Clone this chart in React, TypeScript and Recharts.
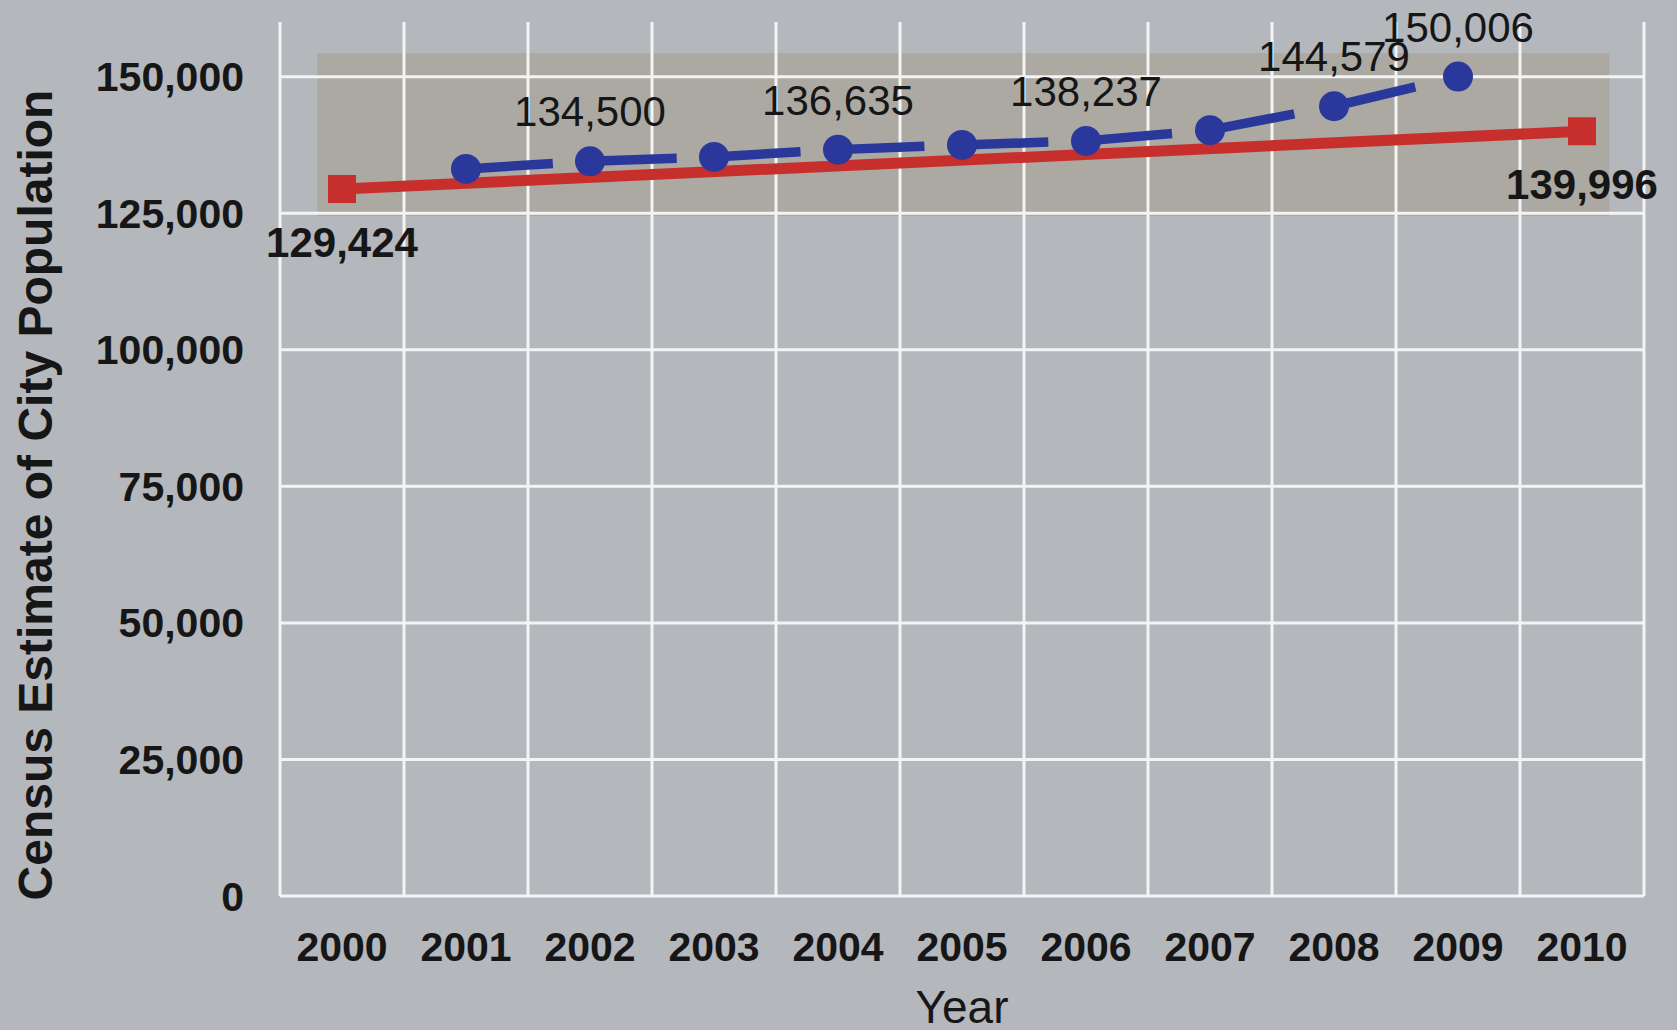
import React from 'react';
import { LineChart, Line, XAxis, YAxis, CartesianGrid, ReferenceArea } from 'recharts';

// years on the x axis
const years = [2000, 2001, 2002, 2003, 2004, 2005, 2006, 2007, 2008, 2009, 2010];
// annual city estimates (blue), unlabelled years
const cityEstimate = [null, 133100, 134500, 135300, 136635, 137500, 138237, 140200, 144579, 150006, null];
// decennial census counts (red)
const censusCount = [129424, null, null, null, null, null, null, null, null, null, 139996];
const labelledYears = [2002, 2004, 2006, 2008, 2009];

const yTicks = [0, 25000, 50000, 75000, 100000, 125000, 150000];
const gridYears = [1999.5, 2000.5, 2001.5, 2002.5, 2003.5, 2004.5, 2005.5, 2006.5, 2007.5, 2008.5, 2009.5, 2010.5];
// shaded range behind the lines
const bandYears = [1999.8, 2010.22];
const bandValues = [124500, 154300];

const data = years.map((year, i) => ({ year, estimate: cityEstimate[i], census: censusCount[i] }));

const FONT = '"Liberation Sans", Arial, Helvetica, sans-serif';
const BLUE = '#2a389b';
const RED = '#c72f2c';
const INK = '#161616';

const fmt = (v: number) => v.toLocaleString('en-US');

const EstimateDot = (props: any) => {
    const { cx, cy, payload, index } = props;
    if (cx == null || cy == null || payload?.estimate == null) return <g key={`e-${index}`} />;
    const showLabel = labelledYears.includes(payload.year);
    return (
        <g key={`e-${index}`}>
            <circle cx={cx} cy={cy} r={15} fill={BLUE} />
            {showLabel && (
                <text x={cx} y={cy - 35} textAnchor="middle" fontSize={42} fontFamily={FONT} fill={INK}>
                    {fmt(payload.estimate)}
                </text>
            )}
        </g>
    );
};

const CensusDot = (props: any) => {
    const { cx, cy, payload, index } = props;
    if (cx == null || cy == null || payload?.census == null) return <g key={`c-${index}`} />;
    return (
        <g key={`c-${index}`}>
            <rect x={cx - 14} y={cy - 14} width={28} height={28} fill={RED} />
            <text x={cx} y={cy + 68} textAnchor="middle" fontSize={42} fontWeight="bold" fontFamily={FONT} fill={INK}>
                {fmt(payload.census)}
            </text>
        </g>
    );
};

const YTitle = (p: any) => {
    const vb = p.viewBox || {};
    const x = 35;
    const y = (vb.y ?? 22) + (vb.height ?? 874) / 2 + 36;
    return (
        <text x={x} y={y} transform={`rotate(-90, ${x}, ${y})`} textAnchor="middle" dominantBaseline="central"
            fontSize={48} fontWeight="bold" fontFamily={FONT} fill={INK}>
            Census Estimate of City Population
        </text>
    );
};

const XTitle = (p: any) => {
    const vb = p.viewBox || {};
    const x = (vb.x ?? 280) + (vb.width ?? 1364) / 2;
    const y = (vb.y ?? 896) + 127;
    return (
        <text x={x} y={y} textAnchor="middle" fontSize={46} fontFamily={FONT} fill={INK}>
            Year
        </text>
    );
};

export default function App() {
    return (
        <div style={{ position: 'absolute', left: 0, top: 0, width: 1677, height: 1030, background: '#b4b7bc', overflow: 'hidden' }}>
            <LineChart width={1677} height={1030} data={data} margin={{ top: 22, right: 33, left: 0, bottom: 0 }}>
                <ReferenceArea
                    x1={bandYears[0]}
                    x2={bandYears[1]}
                    y1={bandValues[0]}
                    y2={bandValues[1]}
                    fill="#aca9a3"
                    fillOpacity={1}
                    stroke="none"
                    zIndex={-150}
                />
                <CartesianGrid
                    stroke="#f4f4f4"
                    strokeWidth={3}
                    strokeDasharray=""
                    horizontalValues={yTicks}
                    verticalValues={gridYears}
                />
                <XAxis
                    dataKey="year"
                    type="number"
                    domain={[1999.5, 2010.5]}
                    ticks={years}
                    interval={0}
                    axisLine={false}
                    tickLine={false}
                    tickMargin={30}
                    height={134}
                    tick={{ fill: INK, fontSize: 41, fontWeight: 'bold', fontFamily: FONT }}
                    label={{ content: XTitle }}
                />
                <YAxis
                    type="number"
                    domain={[0, 160000]}
                    ticks={yTicks}
                    interval={0}
                    axisLine={false}
                    tickLine={false}
                    tickMargin={30}
                    width={280}
                    tickFormatter={fmt}
                    tick={{ fill: INK, fontSize: 41, fontWeight: 'bold', fontFamily: FONT }}
                    label={{ content: YTitle }}
                />
                <Line
                    type="linear"
                    dataKey="estimate"
                    stroke={BLUE}
                    strokeWidth={9.5}
                    strokeDasharray="87 37"
                    dot={EstimateDot}
                    activeDot={false}
                    isAnimationActive={false}
                />
                <Line
                    type="linear"
                    dataKey="census"
                    stroke={RED}
                    strokeWidth={11}
                    connectNulls
                    dot={CensusDot}
                    activeDot={false}
                    isAnimationActive={false}
                />
            </LineChart>
        </div>
    );
}
